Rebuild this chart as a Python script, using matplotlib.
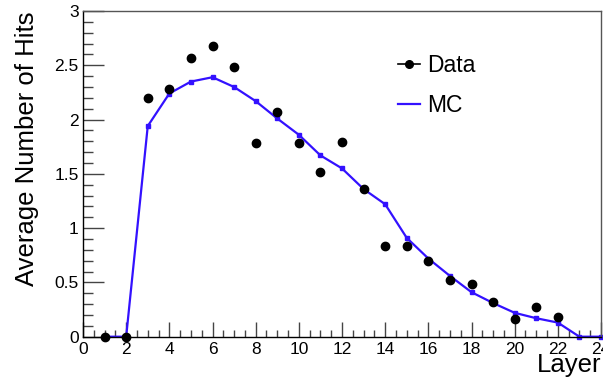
import matplotlib.pyplot as plt
from matplotlib.lines import Line2D
from matplotlib.ticker import MultipleLocator

plt.rcParams['font.family'] = ['Liberation Sans', 'DejaVu Sans']

# layers and mean hits per layer
layers = list(range(1, 25))
data_layers = list(range(1, 23))
data_hits = [0.0, 0.0, 2.20, 2.28, 2.57, 2.68, 2.48, 1.78, 2.07, 1.78, 1.52,
             1.79, 1.36, 0.84, 0.84, 0.70, 0.52, 0.49, 0.32, 0.16, 0.27, 0.18]
mc_hits = [0.0, 0.0, 1.94, 2.24, 2.35, 2.39, 2.30, 2.17, 2.01, 1.86, 1.67,
           1.55, 1.36, 1.22, 0.91, 0.72, 0.56, 0.41, 0.31, 0.22, 0.17, 0.13,
           0.0, 0.0]

mc_color = '#3311ff'

fig = plt.figure(figsize=(6.03, 3.81), dpi=100)
ax = fig.add_axes([83 / 603, 44.3 / 381, 518 / 603, 325.7 / 381])

ax.plot(layers, mc_hits, color=mc_color, lw=1.6, marker='s', ms=2.2,
        zorder=2, clip_on=False)
ax.plot(data_layers, data_hits, 'o', color='black', ms=6, zorder=3,
        clip_on=False)

ax.set_xlim(0, 24)
ax.set_ylim(0, 3)
ax.xaxis.set_major_locator(MultipleLocator(2))
ax.xaxis.set_minor_locator(MultipleLocator(0.5))
ax.yaxis.set_major_locator(MultipleLocator(0.5))
ax.yaxis.set_minor_locator(MultipleLocator(0.1))
ax.set_xticks(range(0, 25, 2))
ax.set_xticklabels([str(v) for v in range(0, 25, 2)])
ax.set_yticks([0, 0.5, 1, 1.5, 2, 2.5, 3])
ax.set_yticklabels(['0', '0.5', '1', '1.5', '2', '2.5', '3'])

ax.tick_params(axis='x', which='major', direction='in', length=11, width=1,
               labelsize=12.5, pad=4, color='#444444')
ax.tick_params(axis='x', which='minor', direction='in', length=5, width=1,
               color='#444444')
ax.tick_params(axis='y', which='major', direction='in', length=15, width=1,
               labelsize=12.5, pad=3, color='#444444')
ax.tick_params(axis='y', which='minor', direction='in', length=7, width=1,
               color='#444444')
for s in ax.spines.values():
    s.set_linewidth(1)
ax.spines['top'].set_color('#555555')
ax.spines['right'].set_color('#555555')

fig.text(27 / 603, 1 - 12 / 381, 'Average Number of Hits', rotation=90,
         ha='center', va='top', fontsize=18.5)
fig.text(601 / 603, 4 / 381, 'Layer', ha='right', va='bottom', fontsize=18.5)

handles = [Line2D([], [], color='black', marker='o', ms=5.5, lw=1.2),
           Line2D([], [], color=mc_color, lw=1.6)]
ax.legend(handles, ['Data', 'MC'], loc='upper left',
          bbox_to_anchor=(398 / 603, 1 - 54 / 381), bbox_transform=fig.transFigure,
          frameon=False, fontsize=16.5, handlelength=0.95, handletextpad=0.3,
          labelspacing=0.75, borderpad=0, borderaxespad=0)

fig.savefig('out.png', dpi=100)
